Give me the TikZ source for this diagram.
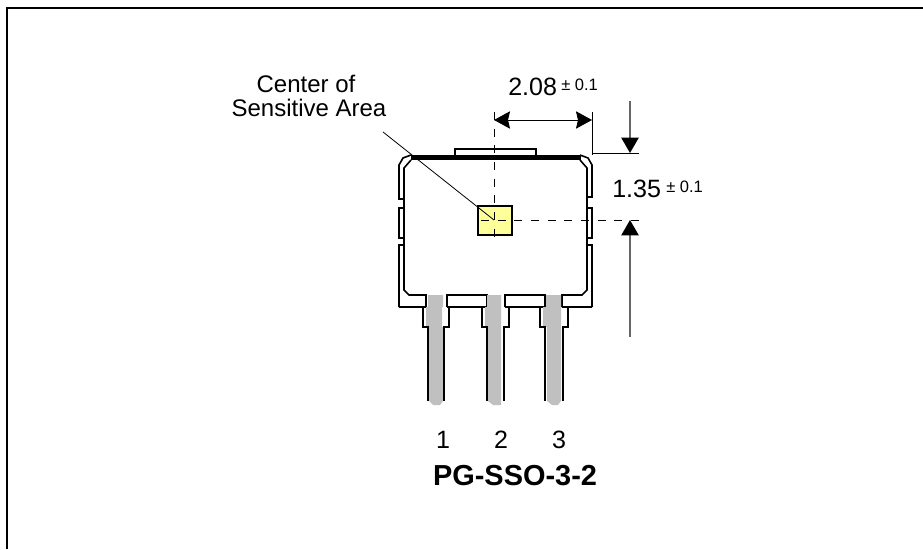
\documentclass[tikz,border=0pt]{standalone}
\usepackage{fontspec}
\setmainfont{Liberation Sans}
\usetikzlibrary{arrows.meta}
\definecolor{leadgray}{HTML}{C0C0C0}
\definecolor{chipyellow}{HTML}{FFFF99}
\tikzset{
  wall/.style={black,line width=1.2pt,line join=miter},
  leadfill/.style={fill=leadgray,draw=none},
  dimline/.style={black,line width=0.6pt},
  dimarrow/.style={line width=1pt,draw=black!60,{Stealth[length=11.5pt,width=13pt,inset=0pt,black]}-},
  centerline/.style={black,line width=0.6pt,dash pattern=on 6pt off 6.5pt},
  bigtext/.style={font=\fontsize{18pt}{19pt}\selectfont,inner sep=0pt},
  digittext/.style={font=\fontsize{18.8pt}{19pt}\selectfont,inner sep=0pt},
  tolerance/.style={font=\fontsize{12.4pt}{13pt}\selectfont,inner sep=0pt}
}
\begin{document}
\begin{tikzpicture}[x=0.75pt,y=-0.75pt]
    \useasboundingbox (0,0) rectangle (923,549);
    % frame
    \draw [line width=1pt] (7,549)--(7,8)--(923,8);
    % housing, outer wall
    \draw [wall] (399,307)--(399,245)--(404,245) (404,238)--(399,238)--(399,208)--(404,208) (404,199)--(399,199)--(399,165)--(403,158)--(411,155);
    \draw [wall] (592,307)--(592,245)--(587,245) (587,238)--(592,238)--(592,208)--(587,208) (587,197)--(592,197)--(592,165)--(588,158)--(580,155);
    \draw [wall] (399,307)--(426,307) (447,307)--(487,307) (505,307)--(545,307) (562,307)--(592,307);
    % housing, inner wall
    \draw [wall] (411,160)--(404,168)--(404,290)--(409,295)--(426,295)--(426,307);
    \draw [wall] (447,307)--(447,295)--(487,295)--(487,307);
    \draw [wall] (505,307)--(505,295)--(545,295)--(545,307);
    \draw [wall] (562,307)--(562,295)--(582,295)--(587,290)--(587,168)--(580,160);
    % top edge and tab
    \draw [line width=4.2pt] (411,157.5)--(581,157.5);
    \draw [wall] (455,157)--(455,149)--(536,149)--(536,157);
    % leads, gray
    \fill [leadfill] (428,295)--(443,295)--(443,307)--(442,307)--(442,327)--(443,327)--(443,401)--(440,405)--(433,405)--(429,401)--(429,327)--(426,327)--(426,307)--(428,307)--cycle;
    \fill [leadfill] (487,295)--(501,295)--(501,401)--(501,405)--(493,405)--(488,401)--(488,327)--(485,327)--(485,307)--(487,307)--cycle;
    \fill [leadfill] (546,295)--(561,295)--(561,401)--(558,405)--(552,405)--(547,401)--(547,327)--(543,327)--(543,307)--(546,307)--cycle;
    % leads, outline
    \draw [wall] (423,307)--(423,327)--(428,327)--(428,401);
    \draw [wall] (449,307)--(449,327)--(444,327)--(444,401);
    \draw [wall] (482,307)--(482,327)--(487,327)--(487,401);
    \draw [wall] (509,307)--(509,327)--(504,327)--(504,401);
    \draw [wall] (540,307)--(540,327)--(545,327)--(545,401);
    \draw [wall] (568,307)--(568,327)--(563,327)--(563,401);
    % sensitive area
    \draw [line width=1.7pt,fill=chipyellow] (478,206) rectangle (512,235);
    \coordinate (areaC) at (494,220);
    \coordinate (vertT) at (494,112);
    \coordinate (vertB) at (494,238);
    \coordinate (horL) at (481,220);
    \coordinate (horR) at (643,220);
    \draw [centerline] (vertT)--(vertB);
    \draw [centerline] (horL)--(horR);
    % leader
    \coordinate (leaderS) at (383,132);
    \draw [dimline] (leaderS)--(areaC);
    % dimension 2.08
    \coordinate (widthL) at (494,120);
    \coordinate (widthR) at (592,120);
    \coordinate (extT) at (592,112);
    \coordinate (extB) at (592,155);
    \coordinate (edgeR) at (639,153);
    \coordinate (edgeL) at (592,153);
    \draw [dimline] (extT)--(extB);
    \draw [dimline] (edgeL)--(edgeR);
    \draw [dimline,{Stealth[length=12pt,width=13pt,inset=1.5pt]}-{Stealth[length=12pt,width=13pt,inset=1.5pt]}] (widthL)--(widthR);
    % dimension 1.35
    \coordinate (downS) at (630,101);
    \coordinate (downE) at (630,153);
    \coordinate (upS) at (630,337);
    \coordinate (upE) at (630,220);
    \draw [dimarrow] (downE)--(downS);
    \draw [dimarrow] (upE)--(upS);
    % labels
    \node [bigtext,anchor=base] (lblCenter) at (306,93) {Center of};
    \node [bigtext,anchor=base] (lblArea) at (309,117) {Sensitive Area};
    \node [digittext,anchor=base west] (lblWidth) at (508,96) {2.08};
    \node [tolerance,anchor=base west] (tolWidth) at (561,91) {± 0.1};
    \node [digittext,anchor=base west] (lblDepth) at (612,197) {1.35};
    \node [tolerance,anchor=base west] (tolDepth) at (666,192) {± 0.1};
    \node [digittext,anchor=base] (pinA) at (443,448) {1};
    \node [digittext,anchor=base] (pinB) at (501,448) {2};
    \node [digittext,anchor=base] (pinC) at (559,448) {3};
    \node [inner sep=0pt,anchor=base,font=\fontsize{21.7pt}{22pt}\selectfont\bfseries] (pkgName) at (515,485) {PG-SSO-3-2};
\end{tikzpicture}
\end{document}
